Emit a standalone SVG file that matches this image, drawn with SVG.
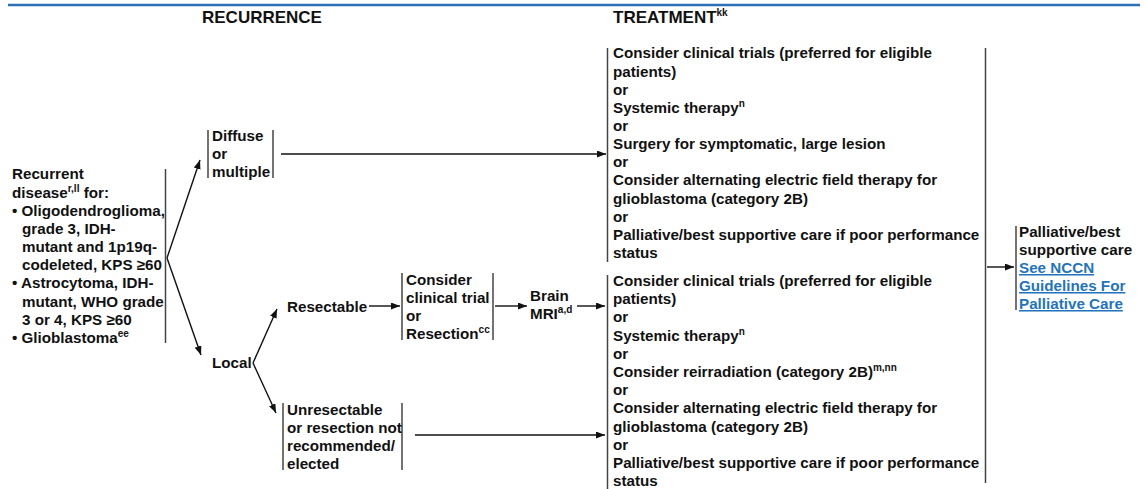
<svg xmlns="http://www.w3.org/2000/svg" width="1146" height="489" viewBox="0 0 1146 489">
<style>
text{font-family:"Liberation Sans",Arial,sans-serif;font-weight:bold;font-size:15.2px;fill:#111}
.hdr{font-size:17px}
.sup{font-size:10px}
.link{fill:#1f74bd;text-decoration:underline}
.bar{stroke:#444;stroke-width:1.5;fill:none}
.con{stroke:#111;stroke-width:1.4;fill:none}
.arr{marker-end:url(#ah)}
</style>
<defs>
<marker id="ah" markerUnits="userSpaceOnUse" markerWidth="10" markerHeight="8" refX="9" refY="3.5" orient="auto">
<path d="M0,0 L9,3.5 L0,7 z" fill="#111"/>
</marker>
</defs>
<rect width="1146" height="489" fill="#fff"/>
<line x1="8" y1="5" x2="1140" y2="5" stroke="#2a72b5" stroke-width="2.6"/>
<g id="headers">
<text class="hdr" x="202" y="22.5">RECURRENCE</text>
<text class="hdr" x="613" y="23">TREATMENT<tspan class="sup" dy="-7">kk</tspan></text>
</g>
<g id="connectors">
<line class="con arr" x1="167" y1="258" x2="200" y2="160"/>
<line class="con arr" x1="167" y1="258" x2="201" y2="355"/>
<line class="con arr" x1="281" y1="154" x2="606" y2="154"/>
<line class="con arr" x1="253" y1="363" x2="277" y2="309"/>
<line class="con arr" x1="253" y1="363" x2="276" y2="413"/>
<line class="con arr" x1="369" y1="306" x2="400" y2="306"/>
<line class="con arr" x1="495" y1="306" x2="527" y2="306"/>
<line class="con arr" x1="577" y1="306" x2="605" y2="306"/>
<line class="con arr" x1="415" y1="435" x2="605" y2="435"/>
<line class="bar" x1="985.5" y1="48" x2="985.5" y2="483"/>
<line class="con arr" x1="987" y1="267" x2="1014" y2="267"/>
</g>
<g id="node-recurrent">
<line class="bar" x1="165.5" y1="169" x2="165.5" y2="343"/>
<text x="12" y="179.3">Recurrent</text>
<text x="12" y="197.5">disease<tspan class="sup" dy="-6">r,ll</tspan><tspan dy="6"> for:</tspan></text>
<text x="12" y="215.6">• Oligodendroglioma,</text>
<text x="22" y="233.8">grade 3, IDH-</text>
<text x="22" y="252">mutant and 1p19q-</text>
<text x="22" y="270.1">codeleted, KPS ≥60</text>
<text x="12" y="288.3">• Astrocytoma, IDH-</text>
<text x="22" y="306.5">mutant, WHO grade</text>
<text x="22" y="324.6">3 or 4, KPS ≥60</text>
<text x="12" y="342.8">• Glioblastoma<tspan class="sup" dy="-6">ee</tspan></text>
</g>
<g id="node-diffuse">
<line class="bar" x1="208" y1="130" x2="208" y2="178"/>
<line class="bar" x1="273" y1="130" x2="273" y2="178"/>
<text x="212" y="141">Diffuse</text>
<text x="212" y="159">or</text>
<text x="212" y="177">multiple</text>
</g>
<g id="node-local">
<text x="212" y="368">Local</text>
</g>
<g id="node-resectable">
<text x="287" y="312">Resectable</text>
</g>
<g id="node-consider-trial">
<line class="bar" x1="402" y1="273" x2="402" y2="340"/>
<line class="bar" x1="493" y1="273" x2="493" y2="340"/>
<text x="406" y="285">Consider</text>
<text x="406" y="303">clinical trial</text>
<text x="406" y="321">or</text>
<text x="406" y="339">Resection<tspan class="sup" dy="-6">cc</tspan></text>
</g>
<g id="node-brain-mri">
<text x="530" y="300.7">Brain</text>
<text x="530" y="319">MRI<tspan class="sup" dy="-6">a,d</tspan></text>
</g>
<g id="node-unresectable">
<line class="bar" x1="283" y1="403" x2="283" y2="470"/>
<line class="bar" x1="402" y1="403" x2="402" y2="470"/>
<text x="287" y="415">Unresectable</text>
<text x="287" y="433">or resection not</text>
<text x="287" y="451">recommended/</text>
<text x="287" y="469">elected</text>
</g>
<g id="node-treatment-diffuse">
<line class="bar" x1="607.5" y1="48" x2="607.5" y2="262"/>
<text x="613" y="58.3">Consider clinical trials (preferred for eligible</text>
<text x="613" y="76.5">patients)</text>
<text x="613" y="94.6">or</text>
<text x="613" y="112.8">Systemic therapy<tspan class="sup" dy="-6">n</tspan></text>
<text x="613" y="130.9">or</text>
<text x="613" y="149.1">Surgery for symptomatic, large lesion</text>
<text x="613" y="167.2">or</text>
<text x="613" y="185.4">Consider alternating electric field therapy for</text>
<text x="613" y="203.5">glioblastoma (category 2B)</text>
<text x="613" y="221.7">or</text>
<text x="613" y="239.8">Palliative/best supportive care if poor performance</text>
<text x="613" y="258">status</text>
</g>
<g id="node-treatment-local">
<line class="bar" x1="607.5" y1="275" x2="607.5" y2="489"/>
<text x="613" y="286">Consider clinical trials (preferred for eligible</text>
<text x="613" y="304.2">patients)</text>
<text x="613" y="322.4">or</text>
<text x="613" y="340.6">Systemic therapy<tspan class="sup" dy="-6">n</tspan></text>
<text x="613" y="358.8">or</text>
<text x="613" y="377">Consider reirradiation (category 2B)<tspan class="sup" dy="-6">m,nn</tspan></text>
<text x="613" y="395.2">or</text>
<text x="613" y="413.4">Consider alternating electric field therapy for</text>
<text x="613" y="431.6">glioblastoma (category 2B)</text>
<text x="613" y="449.8">or</text>
<text x="613" y="468">Palliative/best supportive care if poor performance</text>
<text x="613" y="486.2">status</text>
</g>
<g id="node-palliative">
<line class="bar" x1="1016" y1="226" x2="1016" y2="310"/>
<text x="1019" y="237">Palliative/best</text>
<text x="1019" y="255">supportive care</text>
<text class="link" x="1019" y="273">See NCCN</text>
<text class="link" x="1019" y="291">Guidelines For</text>
<text class="link" x="1019" y="309">Palliative Care</text>
</g>
</svg>
